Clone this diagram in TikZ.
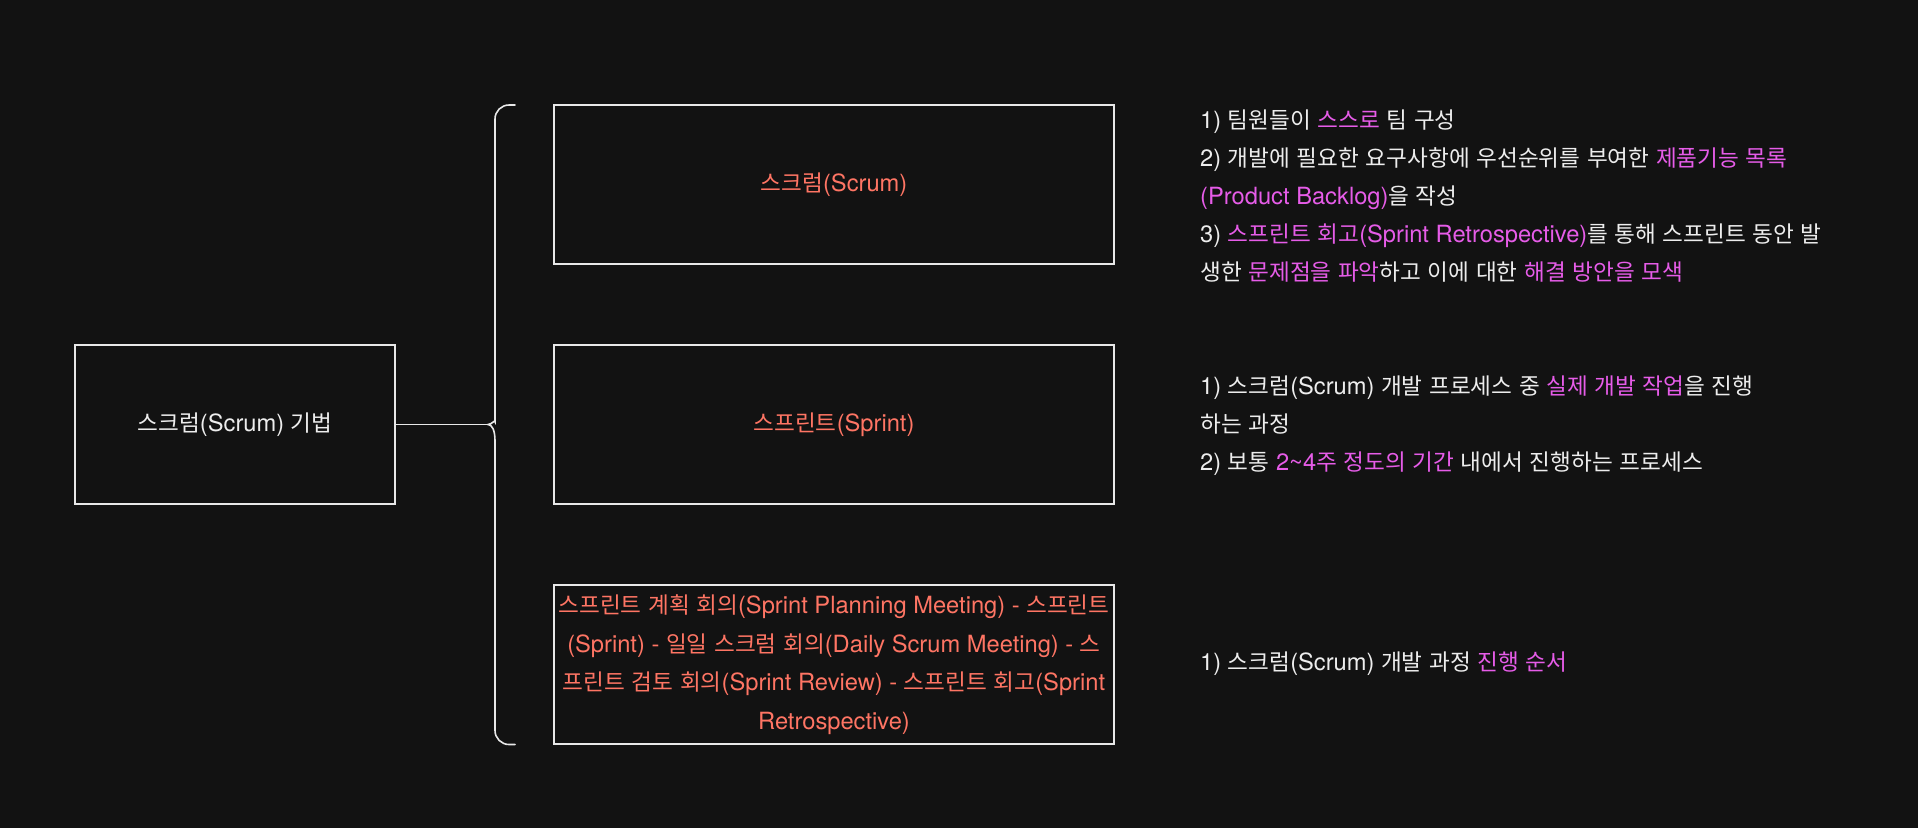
\documentclass[tikz,border=0pt]{standalone}
\usepackage{fontspec}
\setmainfont{TeX Gyre Heros}
\newfontfamily\latinfont{TeX Gyre Heros}
\newfontfamily\krfont[Scale=0.954]{Noto Sans CJK KR}
\XeTeXinterchartokenstate=1
\ifdefined\newXeTeXintercharclass
  \newXeTeXintercharclass\KRclass
\else
  \chardef\KRclass=10
\fi
\newcount\krc
\krc="AC00
\loop\XeTeXcharclass\krc=\KRclass \advance\krc by 1 \ifnum\krc<"D7A4 \repeat
\XeTeXinterchartoks 0 \KRclass={\krfont}
\XeTeXinterchartoks 4095 \KRclass={\krfont}
\XeTeXinterchartoks \KRclass 0={\latinfont}
\XeTeXinterchartoks \KRclass 4095={\latinfont}
\definecolor{bg}{HTML}{121212}
\definecolor{stroke}{HTML}{E8E8E8}
\definecolor{txt}{HTML}{EDEDED}
\definecolor{salmon}{HTML}{FF7564}
\definecolor{mag}{HTML}{E65CE8}
\newcommand\hlt[1]{\textcolor{mag}{#1}}
\tikzset{
  box/.style={draw=stroke, line width=1.6pt, fill=bg, inner sep=0pt, align=center},
  conn/.style={draw=stroke, line width=1.6pt},
  note/.style={anchor=west, inner sep=0pt, align=left, text=txt}
}
\begin{document}
\begin{tikzpicture}[x=1pt, y=-1pt, font=\fontsize{23.7}{38}\selectfont]
\fill[bg] (0,0) rectangle (1918,828);
\useasboundingbox (0,0) rectangle (1918,828);

\node[box, minimum width=320, minimum height=159, text=txt] (L) at (235,424.5) {스크럼(Scrum) 기법};

\node[box, minimum width=560, minimum height=159, text=salmon] (B1) at (834,184.5) {스크럼(Scrum)};
\node[box, minimum width=560, minimum height=159, text=salmon] (B2) at (834,424.5) {스프린트(Sprint)};
\node[box, minimum width=560, minimum height=159, text=salmon, font=\fontsize{23.7}{38.6}\selectfont] (B3) at (834,664.5)
  {스프린트 계획 회의(Sprint Planning Meeting) - 스프린트\\(Sprint) - 일일 스크럼 회의(Daily Scrum Meeting) - 스\\프린트 검토 회의(Sprint Review) - 스프린트 회고(Sprint\\Retrospective)};

\coordinate (tip) at (488,424.5);
\coordinate (btop) at (515,105);
\coordinate (bbot) at (515,744.5);
\draw[conn] (L.east) -- (tip);
\draw[conn, line cap=round] (btop) [rounded corners=14] -- (495,105) -- (495,408) [sharp corners]
  .. controls (495,419) and (492,424.5) .. (tip)
  .. controls (492,424.5) and (495,430) .. (495,441) [rounded corners=14] -- (495,744.5) -- (bbot);

\node[note] (N1) at (1200,196) {1) 팀원들이 \hlt{스스로} 팀 구성\\
2) 개발에 필요한 요구사항에 우선순위를 부여한 \hlt{제품기능 목록}\\
\hlt{(Product Backlog)}을 작성\\
3) \hlt{스프린트 회고(Sprint Retrospective)}를 통해 스프린트 동안 발\\
생한 \hlt{문제점을 파악}하고 이에 대한 \hlt{해결 방안을 모색}};

\node[note] (N2) at (1200,426) {1) 스크럼(Scrum) 개발 프로세스 중 \hlt{실제 개발 작업}을 진행\\
하는 과정\\
2) 보통 \hlt{2\textasciitilde4주 정도의 기간} 내에서 진행하는 프로세스};

\node[note] (N3) at (1200,664) {1) 스크럼(Scrum) 개발 과정 \hlt{진행 순서}};
\end{tikzpicture}
\end{document}
